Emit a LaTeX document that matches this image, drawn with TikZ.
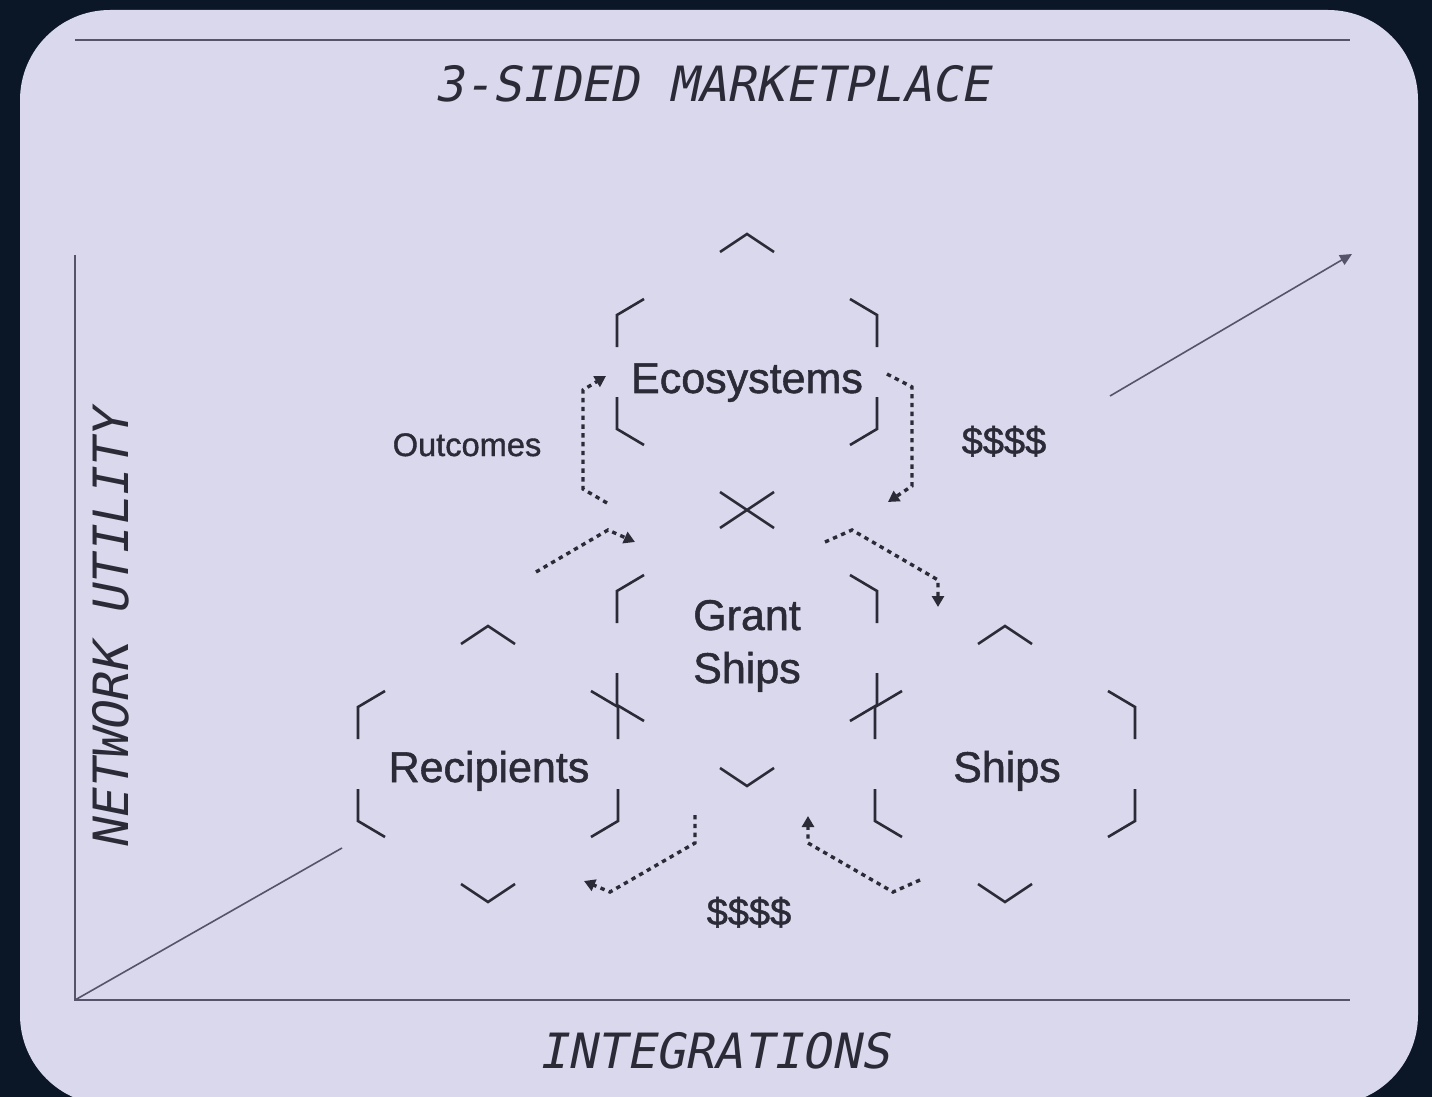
\documentclass[tikz,border=0pt]{standalone}
\usepackage{fontspec}
\setmainfont{Liberation Sans}
\newfontfamily\hexfont[FakeBold=1.2]{Liberation Sans}
\newfontfamily\lcdfont[FakeSlant=0.2]{DejaVu Sans Mono}
\usetikzlibrary{arrows.meta}

\definecolor{night}{HTML}{0B1627}
\definecolor{lilac}{HTML}{D9D8EC}
\definecolor{ink}{HTML}{2B2B38}
\definecolor{axisgray}{HTML}{55546A}

\tikzset{
    hexline/.style={ink,line width=1.3pt},
    flow/.style={ink,line width=1.7pt,dash pattern=on 2.2pt off 2.2pt,
        -{Triangle[length=5.5pt,width=6pt]}},
    axis/.style={axisgray,line width=0.8pt},
    hexlabel/.style={ink,inner sep=0pt,align=center,
        font=\hexfont\fontsize{21.5}{26.5}\selectfont},
    notelabel/.style={ink,inner sep=0pt,font=\hexfont\fontsize{16.3}{20}\selectfont},
    paylabel/.style={ink,inner sep=0pt,font=\hexfont\fontsize{19}{23}\selectfont},
    lcd/.style={ink,inner sep=0pt,font=\lcdfont\fontsize{24.3}{29}\selectfont}
}

\begin{document}
\begin{tikzpicture}[x=0.5pt,y=-0.5pt]
            \useasboundingbox (0,0) rectangle (1432,1097);
            \fill[night] (0,0) rectangle (1432,1097);
            \clip (0,0) rectangle (1432,1097);
            \fill[lilac,rounded corners=45pt] (20,10) rectangle (1418,1105);

            % axes
            \begin{scope}
                \coordinate (tl) at (75,40);
                \coordinate (tr) at (1350,40);
                \coordinate (origin) at (75,1000);
                \coordinate (ytop) at (75,255);
                \coordinate (xend) at (1350,1000);
                \coordinate (diaga) at (342,848);
                \coordinate (diagb) at (1110,396);
                \coordinate (diagtip) at (1352,254);

                \draw[axis] (tl) -- (tr);
                \draw[axis] (ytop) -- (origin) -- (xend);
                \draw[axis] (origin) -- (diaga);
                \draw[axis,-{Triangle[length=6pt,width=5.5pt]}] (diagb) -- (diagtip);
            \end{scope}

            \node[lcd,anchor=base] (title) at (712,102) {3-SIDED MARKETPLACE};
            \node[lcd,anchor=base] (xlabel) at (714,1068) {INTEGRATIONS};
            \node[lcd,anchor=base,rotate=90] (ylabel) at (128,630) {NETWORK UTILITY};

            % hexagon corners
            \foreach \cx/\cy in {747/372, 747/648, 488/764, 1005/764} {
                \begin{scope}[shift={(\cx,\cy)}]
                    \draw[hexline] (-27,-120) -- (0,-138) -- (27,-120);
                    \draw[hexline] (-103,-73) -- (-130,-57) -- (-130,-25);
                    \draw[hexline] (103,-73) -- (130,-57) -- (130,-25);
                    \draw[hexline] (-130,25) -- (-130,57) -- (-103,73);
                    \draw[hexline] (130,25) -- (130,57) -- (103,73);
                    \draw[hexline] (-27,120) -- (0,138) -- (27,120);
                \end{scope}
            }

            \node[hexlabel,anchor=base] (eco) at (747,393) {Ecosystems};
            \node[hexlabel,anchor=base] (grant) at (747,683) {Grant\\Ships};
            \node[hexlabel,anchor=base] (recip) at (489,782) {Recipients};
            \node[hexlabel,anchor=base] (ships) at (1007,782) {Ships};

            \node[notelabel,anchor=base] (outcomes) at (467,456) {Outcomes};
            \node[paylabel,anchor=base] (payin) at (1004,454) {\$\$\$\$};
            \node[paylabel,anchor=base] (payout) at (749,925) {\$\$\$\$};

            % dotted flows
            \begin{scope}
                \coordinate (o1) at (607,503);
                \coordinate (o2) at (583,489);
                \coordinate (o3) at (583,390);
                \coordinate (o4) at (606,376);
                \coordinate (p1) at (887,374);
                \coordinate (p2) at (912,387);
                \coordinate (p3) at (912,486);
                \coordinate (p4) at (888,502);
                \coordinate (q1) at (536,572);
                \coordinate (q2) at (608,530);
                \coordinate (q3) at (635,542);
                \coordinate (r1) at (825,542);
                \coordinate (r2) at (852,530);
                \coordinate (r3) at (938,580);
                \coordinate (r4) at (938,607);
                \coordinate (s1) at (695,815);
                \coordinate (s2) at (695,843);
                \coordinate (s3) at (610,892);
                \coordinate (s4) at (584,881);
                \coordinate (t1) at (920,880);
                \coordinate (t2) at (893,892);
                \coordinate (t3) at (808,843);
                \coordinate (t4) at (808,816);

                \draw[flow] (o1) -- (o2) -- (o3) -- (o4);
                \draw[flow] (p1) -- (p2) -- (p3) -- (p4);
                \draw[flow] (q1) -- (q2) -- (q3);
                \draw[flow] (r1) -- (r2) -- (r3) -- (r4);
                \draw[flow] (s1) -- (s2) -- (s3) -- (s4);
                \draw[flow] (t1) -- (t2) -- (t3) -- (t4);
            \end{scope}
\end{tikzpicture}
\end{document}
